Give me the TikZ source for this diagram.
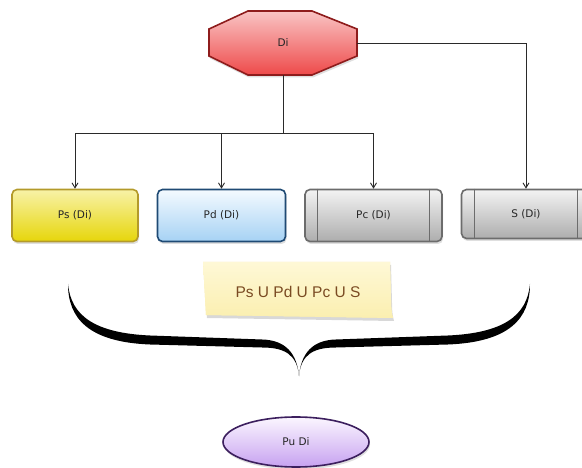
\documentclass[tikz,border=0pt]{standalone}
\usepackage{fontspec}
\setmainfont{DejaVu Sans}
\newfontfamily\notefont{Liberation Sans}
\usetikzlibrary{arrows.meta,shadows,shapes.geometric}
\definecolor{lineC}{HTML}{2A2A2A}
\definecolor{redT}{HTML}{F9C4C4}
\definecolor{redB}{HTML}{EE4A4A}
\definecolor{redD}{HTML}{8E1C1C}
\definecolor{yelT}{HTML}{F8F2A8}
\definecolor{yelB}{HTML}{E6D60A}
\definecolor{yelD}{HTML}{B39A2A}
\definecolor{bluT}{HTML}{F4FAFF}
\definecolor{bluB}{HTML}{A6D2F4}
\definecolor{bluD}{HTML}{1F4A74}
\definecolor{grT}{HTML}{F3F3F3}
\definecolor{grB}{HTML}{ADADAD}
\definecolor{grD}{HTML}{6C6C6C}
\definecolor{puT}{HTML}{FBF6FF}
\definecolor{puB}{HTML}{C7A2F0}
\definecolor{puD}{HTML}{3C1F5E}
\definecolor{noteT}{HTML}{FEF8D6}
\definecolor{noteB}{HTML}{FBEFB0}
\definecolor{noteTxt}{HTML}{7A4A22}
\tikzset{
  arr/.style={draw=lineC, line width=0.9pt, -{Straight Barb[length=5pt,width=6pt]}},
  link/.style={draw=lineC, line width=0.9pt},
  lbl/.style={font=\fontsize{10.5}{12}\selectfont, text=black!85},
  softshadow/.style={drop shadow={opacity=0.25, shadow xshift=1pt, shadow yshift=-2.5pt}},
  boxbase/.style={lbl, rounded corners=5pt, line width=1.6pt, minimum height=52pt, softshadow},
  yelbox/.style={boxbase, draw=yelD, top color=yelT, bottom color=yelB, minimum width=126pt},
  blubox/.style={boxbase, draw=bluD, top color=bluT, bottom color=bluB, minimum width=128pt},
  grbox/.style={boxbase, draw=grD, top color=grT, bottom color=grB},
}
\begin{document}
\begin{tikzpicture}[x=1pt,y=-1pt]
\useasboundingbox (0,0) rectangle (582,468);
\fill[white] (0,0) rectangle (582,468);
\clip (0,0) rectangle (582,468);

% octagon
\path[draw=redD, line width=1.6pt, top color=redT, bottom color=redB, softshadow]
  (248,11) -- (312,11) -- (357,29) -- (357,56) -- (312,75) -- (248,75) -- (209,56) -- (209,29) -- cycle;
\node[lbl, minimum width=148pt, minimum height=64pt, inner sep=0pt] (di) at (283,43) {Di};

% boxes
\node[yelbox] (ps) at (75,215.5) {Ps (Di)};
\node[blubox] (pd) at (221.5,215.5) {Pd (Di)};
\node[grbox, minimum width=137pt] (pc) at (373.5,215.5) {Pc (Di)};
\node[grbox, minimum width=129pt, minimum height=49pt] (s) at (526,214) {S (Di)};
\foreach \n in {pc,s}{
  \draw[grD, line width=1pt] ([xshift=13.5pt]\n.north west) -- ([xshift=13.5pt]\n.south west);
  \draw[grD, line width=1pt] ([xshift=-13.5pt]\n.north east) -- ([xshift=-13.5pt]\n.south east);
}

% connectors
\coordinate (hub) at (283,133);
\draw[link] (di.south) -- (hub);
\draw[arr] (hub) -| (ps.north);
\draw[arr] (hub) -| (pd.north);
\draw[arr] (hub) -| (pc.north);
\draw[arr] (di.east) -| (s.north);

% sticky note
\path[fill=noteB, top color=noteT, bottom color=noteB, drop shadow={opacity=0.3, shadow xshift=1pt, shadow yshift=-3pt}]
  (203,262) -- (390,262) -- (391,300) .. controls (391,310) and (392,314) .. (393,318) -- (206,315) -- cycle;
\node[font=\notefont\fontsize{15.5}{18}\selectfont, text=noteTxt] (sum) at (298,292) {Ps U Pd U Pc U S};

% brace
\fill[black]
  (68,284) .. controls (68,318) and (88,342) .. (150,344.5)
  -- (262,347.5) .. controls (284,347.5) and (297,354) .. (299,376)
  .. controls (297,354) and (286,340) .. (262,339.5)
  -- (150,335.5) .. controls (95,333) and (71,316) .. (68,284) -- cycle;
\fill[black]
  (530,284) .. controls (530,318) and (510,342) .. (448,344.5)
  -- (336,347.5) .. controls (314,347.5) and (301,354) .. (299,376)
  .. controls (301,354) and (312,340) .. (336,339.5)
  -- (448,335.5) .. controls (503,333) and (527,316) .. (530,284) -- cycle;

% result ellipse
\node[lbl, ellipse, draw=puD, line width=1.6pt, top color=puT, bottom color=puB,
      minimum width=146pt, minimum height=50pt, inner sep=0pt, softshadow] (pu) at (296,442) {Pu Di};
\end{tikzpicture}
\end{document}
